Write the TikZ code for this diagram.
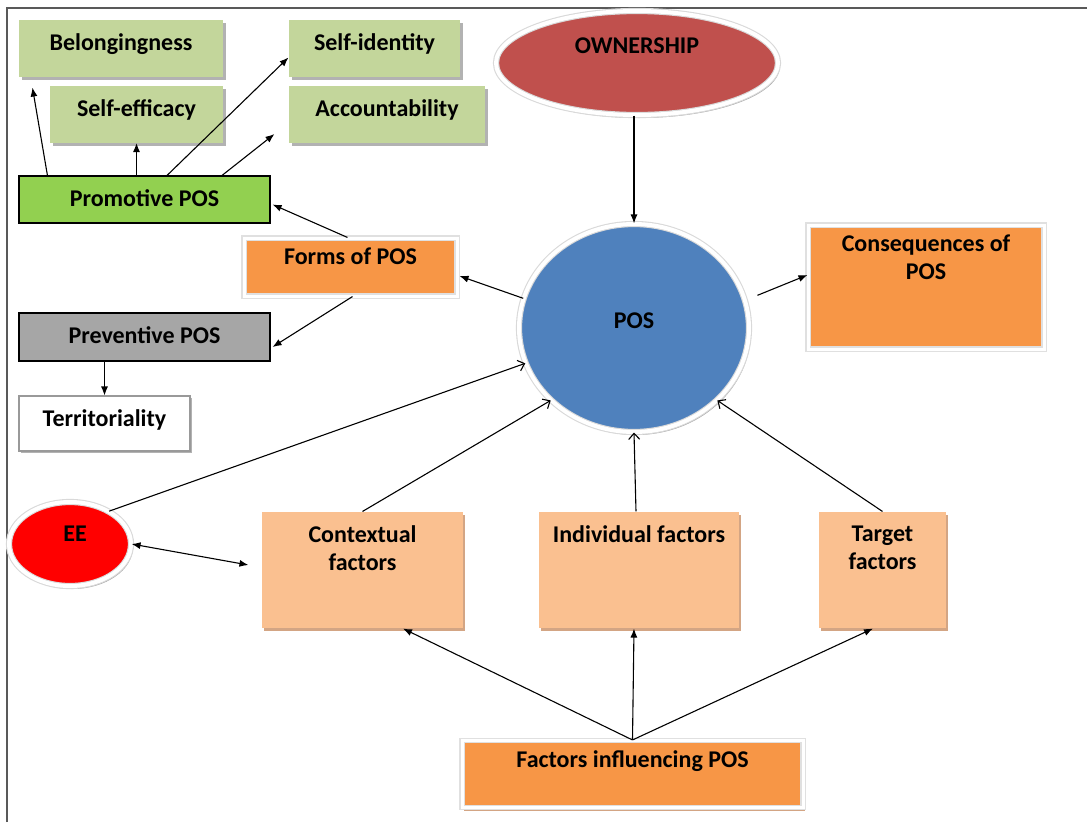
\documentclass[tikz,border=0pt]{standalone}
\usepackage{fontspec}
\setmainfont{Carlito}
\usepackage{tikz}
\usetikzlibrary{positioning}
\usetikzlibrary{shapes.geometric}
\usetikzlibrary{shadows}
\usetikzlibrary{arrows,arrows.meta}

\definecolor{lgreen}{HTML}{C3D69B}
\definecolor{progreen}{HTML}{92D050}
\definecolor{orng}{HTML}{F79646}
\definecolor{peach}{HTML}{FAC090}
\definecolor{tan}{HTML}{D3A584}
\definecolor{ownred}{HTML}{C0504D}
\definecolor{posblue}{HTML}{4F81BD}

\tikzset{
  lbf/.style={font=\fontsize{24}{28}\selectfont\bfseries, inner sep=0pt, align=center},
  lbl/.style={lbf, anchor=north, yshift=-14pt},
  txt/.style={label={[lbl]north:#1}},
  greenbox/.style={rectangle, fill=lgreen, minimum height=57pt, drop shadow={shadow xshift=3pt, shadow yshift=-3pt, fill=black!30, opacity=1}},
  linebox/.style={rectangle, draw=black},
  peachbox/.style={rectangle, fill=peach, drop shadow={shadow xshift=2pt, shadow yshift=-3pt, fill=tan, opacity=1}},
  orangebox/.style={rectangle, fill=orng, draw=black!12, double=white, double distance=3pt, drop shadow={shadow xshift=2pt, shadow yshift=-3pt, fill=tan, opacity=1}},
  blob/.style={ellipse, draw=black!15, double=white, double distance=4pt, drop shadow={shadow xshift=2pt, shadow yshift=-3pt, fill=black!35, opacity=1}},
  opn/.style={-{Straight Barb[length=6pt,width=11pt]}}
}

\begin{document}
\begin{tikzpicture}[x=1pt,y=-1pt,>={Latex[length=9pt,width=7pt]},line width=1.1pt]
\useasboundingbox (0,0) rectangle (1087,822);
\draw[black!65] (7,822) -- (7,8) -- (1087,8);

% forms of POS, top left
\node (bel) [greenbox, minimum width=204pt, txt=Belongingness] at (121,48.5) {};
\node (sid) [greenbox, minimum width=171pt, txt=Self-identity] at (374.5,48.5) {};
\node (sef) [greenbox, minimum width=173pt, txt=Self-efficacy] at (136.5,114) {};
\node (acc) [greenbox, minimum width=196pt, txt=Accountability] at (387,114) {};
\node (pro) [linebox, fill=progreen, minimum width=251pt, minimum height=47pt, txt=Promotive POS] at (144.5,199.5) {};
\node (frm) [orangebox, minimum width=213pt, minimum height=58pt, label={[lbf,anchor=north,yshift=-10pt]north:Forms of POS}] at (350.5,267) {};
\node (pre) [linebox, fill=black!35, minimum width=251pt, minimum height=48pt, txt=Preventive POS] at (144.5,337) {};
\node (ter) [linebox, draw=black!40, fill=white, minimum width=171pt, minimum height=55pt, drop shadow={shadow xshift=2pt, shadow yshift=-2pt, fill=black!30, opacity=1}, txt=Territoriality] at (104.5,423.5) {};

% centre
\node (own) [blob, fill=ownred, minimum width=282pt, minimum height=104pt, label={[lbf,yshift=17pt]center:OWNERSHIP}] at (637,63) {};
\node (pos) [blob, fill=posblue, minimum width=230pt, minimum height=208pt, label={[lbf,yshift=7pt]center:POS}] at (634,328) {};
\node (con) [orangebox, minimum width=236pt, minimum height=124pt, label={[lbf,anchor=north,yshift=-10pt]north:Consequences of\\POS}] at (926,287) {};

% factors
\node (ee) [blob, fill=red, minimum width=122pt, minimum height=84pt, label={[lbf,xshift=5pt,yshift=10pt]center:EE}] at (70,544) {};
\node (ctx) [peachbox, minimum width=201pt, minimum height=116pt, txt=Contextual\\factors] at (362.5,570) {};
\node (ind) [peachbox, minimum width=200pt, minimum height=116pt, txt=Individual factors] at (639,570) {};
\node (tgt) [peachbox, minimum width=127pt, minimum height=116pt, txt=Target\\factors] at (882.5,570) {};
\node (fac) [orangebox, minimum width=341pt, minimum height=67pt, label={[lbf,anchor=north,yshift=-10pt]north:Factors influencing POS}] at (632.5,774) {};

% arrows
\draw[->] ([xshift=29pt]pro.north west) -- ([xshift=14pt,yshift=-10pt]bel.south west);
\draw[->] (sef.south |- pro.north) -- (sef.south);
\draw[->] ([xshift=22.5pt]pro.north) -- ([yshift=-9pt]sid.west);
\draw[->] ([xshift=77.5pt]pro.north) -- ([xshift=-14pt,yshift=9pt]acc.south west);
\draw[->] ([xshift=-3pt]frm.north) -- ([xshift=2pt,yshift=-5pt]pro.east);
\draw[->] (pos.165) -- ([xshift=2pt,yshift=-9pt]frm.east);
\draw[->] ([xshift=2pt]frm.south) -- ([xshift=2pt,yshift=-10pt]pre.east);
\draw[->] (ter.north |- pre.south) -- (ter.north);
\draw[->] (pos.north |- own.south) -- (pos.north);
\draw[->,shorten <=13pt] (pos.14) -- ([yshift=12pt]con.west);
\draw[opn] (ee.40) -- (pos.198);
\draw[opn] (ctx.north) -- (pos.221);
\draw[opn] ([xshift=-3pt]ind.north) -- (pos.south);
\draw[opn] (tgt.north) -- (pos.-41);
\draw[<->] (ee.east) -- ([xshift=-13pt,yshift=5pt]ctx.west);
\draw[->] (fac.north) -- ([xshift=40.5pt]ctx.south);
\draw[->] (fac.north) -- ([xshift=-5pt]ind.south);
\draw[->] (fac.north) -- ([xshift=-9.5pt]tgt.south);
\end{tikzpicture}
\end{document}
